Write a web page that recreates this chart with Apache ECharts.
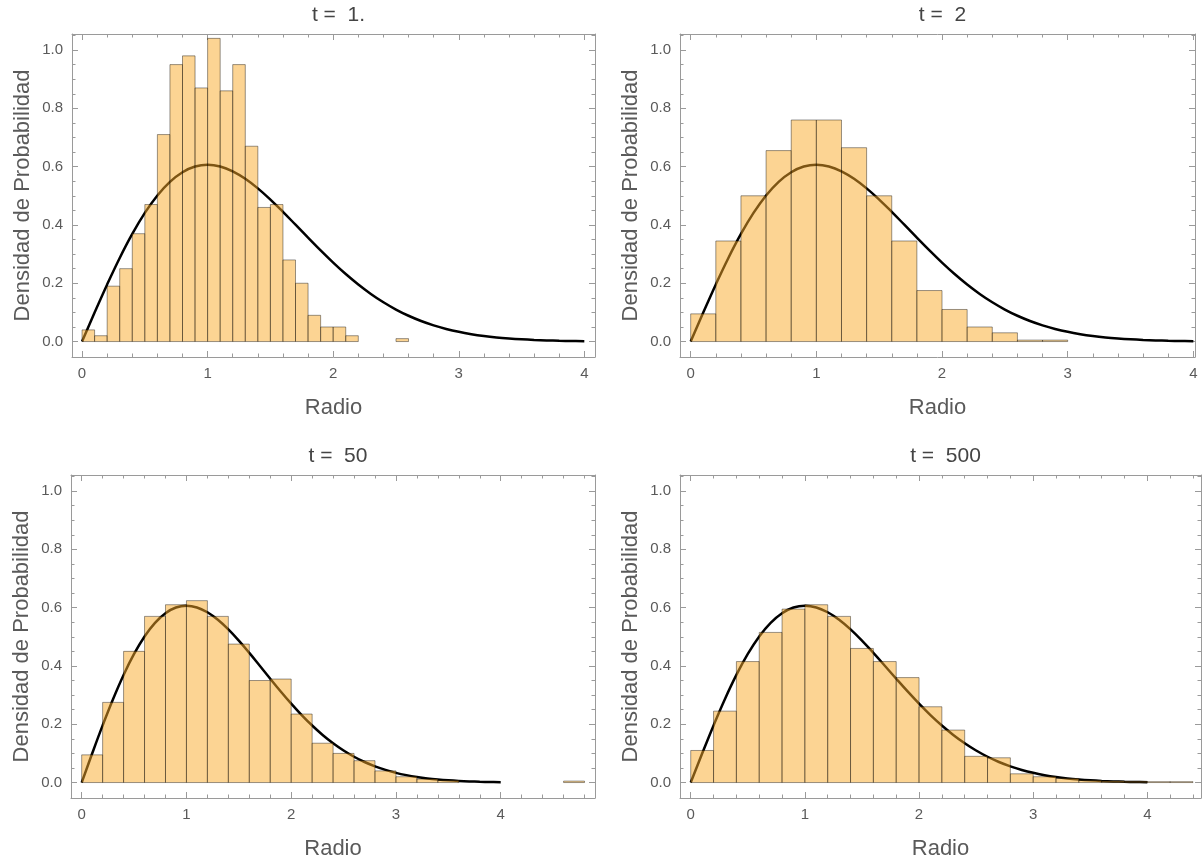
<!DOCTYPE html>
<html>
<head>
<meta charset="utf-8">
<script src="https://cdn.jsdelivr.net/npm/echarts@6/dist/echarts.min.js"></script>
<style>
  html, body { margin: 0; background: #fff; }
  #chart { width: 1202px; height: 865px; }
</style>
</head>
<body>
<div id="chart"></div>
<script>
// histogram heights per bin, bins start at 0
const binWidth1 = 0.1
const heights1 = [0.04, 0.02, 0.19, 0.25, 0.37, 0.47, 0.71, 0.95, 0.98, 0.87, 1.04, 0.86, 0.95, 0.67,
    0.46, 0.47, 0.28, 0.20, 0.09, 0.05, 0.05, 0.02, 0, 0, 0, 0.01]
const binWidth2 = 0.2
const heights2 = [0.095, 0.345, 0.50, 0.655, 0.76, 0.76, 0.665, 0.50, 0.345, 0.175, 0.11, 0.05, 0.03, 0.005, 0.005]
const binWidth3 = 0.2
const heights3 = [0.095, 0.275, 0.45, 0.57, 0.61, 0.624, 0.57, 0.475, 0.35, 0.355, 0.235, 0.135, 0.10, 0.075,
    0.04, 0.02, 0.012, 0.007, 0, 0, 0, 0, 0, 0.005]
const binWidth4 = 0.2
const heights4 = [0.11, 0.245, 0.415, 0.515, 0.595, 0.61, 0.57, 0.46, 0.415, 0.36, 0.26, 0.18, 0.09, 0.085,
    0.03, 0.02, 0.014, 0.007, 0.005, 0.004, 0.003, 0.003]

// the black density curve, read at steps of 0.1
const curveRadius = [0, 0.1, 0.2, 0.3, 0.4, 0.5, 0.6, 0.7, 0.8, 0.9, 1.0, 1.1, 1.2, 1.3, 1.4, 1.5, 1.6, 1.7, 1.8, 1.9,
    2.0, 2.1, 2.2, 2.3, 2.4, 2.5, 2.6, 2.7, 2.8, 2.9, 3.0, 3.1, 3.2, 3.3, 3.4, 3.5, 3.6, 3.7, 3.8, 3.9, 4.0]
const curveDensity = [0, 0.0995, 0.196, 0.2868, 0.3692, 0.4412, 0.5012, 0.5479, 0.5809, 0.6003, 0.6065, 0.6007,
    0.5841, 0.5584, 0.5254, 0.487, 0.4449, 0.4008, 0.3562, 0.3125, 0.2707, 0.2315, 0.1956, 0.1633, 0.1347,
    0.1098, 0.0885, 0.0705, 0.0556, 0.0433, 0.0333, 0.0254, 0.0191, 0.0142, 0.0105, 0.0076, 0.0054, 0.0038,
    0.0027, 0.0019, 0.0013]

const titles = ['t =  1.', 't =  2', 't =  50', 't =  500']
const yTickLabels = [0, 0.2, 0.4, 0.6, 0.8, 1.0]
const yMinorTicks = [0.05, 0.1, 0.15, 0.25, 0.3, 0.35, 0.45, 0.5, 0.55, 0.65, 0.7, 0.75, 0.85, 0.9, 0.95, 1.05]

const FONT = '"Liberation Sans", Arial, sans-serif'
const FRAME = '#9a9a9a'
const TEXT = '#5a5a5a'

const panels = [
    { left: 72, top: 34, width: 523, height: 323, xMin: -0.08, xMax: 4.085, bw: binWidth1, h: heights1, xTicks: [0, 1, 2, 3, 4] },
    { left: 680, top: 34, width: 515, height: 323, xMin: -0.085, xMax: 4.013, bw: binWidth2, h: heights2, xTicks: [0, 1, 2, 3, 4] },
    { left: 71, top: 475, width: 524, height: 323, xMin: -0.102, xMax: 4.9, bw: binWidth3, h: heights3, xTicks: [0, 1, 2, 3, 4] },
    { left: 680, top: 475, width: 521, height: 323, xMin: -0.094, xMax: 4.47, bw: binWidth4, h: heights4, xTicks: [0, 1, 2, 3, 4] }
]

function minorX(max) {
    const out = []
    for (let i = 1; i * 0.2 < max; i++) if (i % 5) out.push(+(i * 0.2).toFixed(1))
    return out
}

const chart = echarts.init(document.getElementById('chart'))
const grid = [], xAxis = [], yAxis = [], series = [], title = []

panels.forEach((p, g) => {
    grid.push({ left: p.left, top: p.top, width: p.width, height: p.height, containLabel: false })
    title.push({
        text: titles[g], left: p.left + p.width / 2, top: p.top - 34, textAlign: 'center',
        textStyle: { fontFamily: FONT, fontSize: 21, fontWeight: 'normal', color: '#444' }
    })
    const yMin = -0.053, yMax = 1.055
    const base = { gridIndex: g, type: 'value', splitLine: { show: false }, axisLine: { onZero: false, lineStyle: { color: FRAME, width: 1 } } }
    const xi = xAxis.length
    // bottom major
    xAxis.push({
        ...base, position: 'bottom', min: p.xMin, max: p.xMax,
        name: 'Radio', nameLocation: 'middle', nameGap: 40,
        nameTextStyle: { fontFamily: FONT, fontSize: 22, color: TEXT },
        axisTick: { inside: true, length: 6, customValues: p.xTicks, lineStyle: { color: FRAME } },
        axisLabel: { customValues: p.xTicks, margin: 9, fontFamily: FONT, fontSize: 15, color: TEXT }
    })
    // bottom minor, top major, top minor
    xAxis.push({ ...base, position: 'bottom', min: p.xMin, max: p.xMax, axisLine: { show: false, onZero: false },
        axisTick: { inside: true, length: 3.5, customValues: minorX(p.xMax), lineStyle: { color: FRAME } }, axisLabel: { show: false } })
    xAxis.push({ ...base, position: 'top', min: p.xMin, max: p.xMax,
        axisTick: { inside: true, length: 6, customValues: p.xTicks, lineStyle: { color: FRAME } }, axisLabel: { show: false } })
    xAxis.push({ ...base, position: 'top', min: p.xMin, max: p.xMax, axisLine: { show: false, onZero: false },
        axisTick: { inside: true, length: 3.5, customValues: minorX(p.xMax), lineStyle: { color: FRAME } }, axisLabel: { show: false } })

    const yi = yAxis.length
    yAxis.push({
        ...base, position: 'left', min: yMin, max: yMax,
        name: 'Densidad de Probabilidad', nameLocation: 'middle', nameGap: 38,
        nameTextStyle: { fontFamily: FONT, fontSize: 22, color: TEXT },
        axisTick: { inside: true, length: 6, customValues: yTickLabels, lineStyle: { color: FRAME } },
        axisLabel: { customValues: yTickLabels, margin: 9, fontFamily: FONT, fontSize: 15, color: TEXT, formatter: v => v.toFixed(1) }
    })
    yAxis.push({ ...base, position: 'left', min: yMin, max: yMax, axisLine: { show: false, onZero: false },
        axisTick: { inside: true, length: 3.5, customValues: yMinorTicks, lineStyle: { color: FRAME } }, axisLabel: { show: false } })
    yAxis.push({ ...base, position: 'right', min: yMin, max: yMax,
        axisTick: { inside: true, length: 6, customValues: yTickLabels, lineStyle: { color: FRAME } }, axisLabel: { show: false } })
    yAxis.push({ ...base, position: 'right', min: yMin, max: yMax, axisLine: { show: false, onZero: false },
        axisTick: { inside: true, length: 3.5, customValues: yMinorTicks, lineStyle: { color: FRAME } }, axisLabel: { show: false } })

    series.push({
        type: 'line', xAxisIndex: xi, yAxisIndex: yi, z: 1,
        data: curveRadius.map((r, i) => [r, curveDensity[i]]),
        smooth: 0.4, showSymbol: false, symbol: 'none',
        lineStyle: { color: '#000', width: 2.5 }
    })
    const bins = []
    p.h.forEach((v, i) => { if (v > 0) bins.push([+(i * p.bw).toFixed(2), +((i + 1) * p.bw).toFixed(2), v]) })
    series.push({
        type: 'custom', xAxisIndex: xi, yAxisIndex: yi, z: 2,
        encode: { x: [0, 1], y: 2 },
        data: bins,
        renderItem(params, api) {
            const a = api.coord([api.value(0), api.value(2)])
            const b = api.coord([api.value(1), 0])
            return {
                type: 'rect',
                shape: { x: a[0], y: a[1], width: b[0] - a[0], height: b[1] - a[1] },
                style: { fill: 'rgba(250,170,40,0.5)', stroke: 'rgba(0,0,0,0.4)', lineWidth: 1 }
            }
        }
    })
})

chart.setOption({ animation: false, backgroundColor: '#fff', title, grid, xAxis, yAxis, series })
</script>
</body>
</html>
